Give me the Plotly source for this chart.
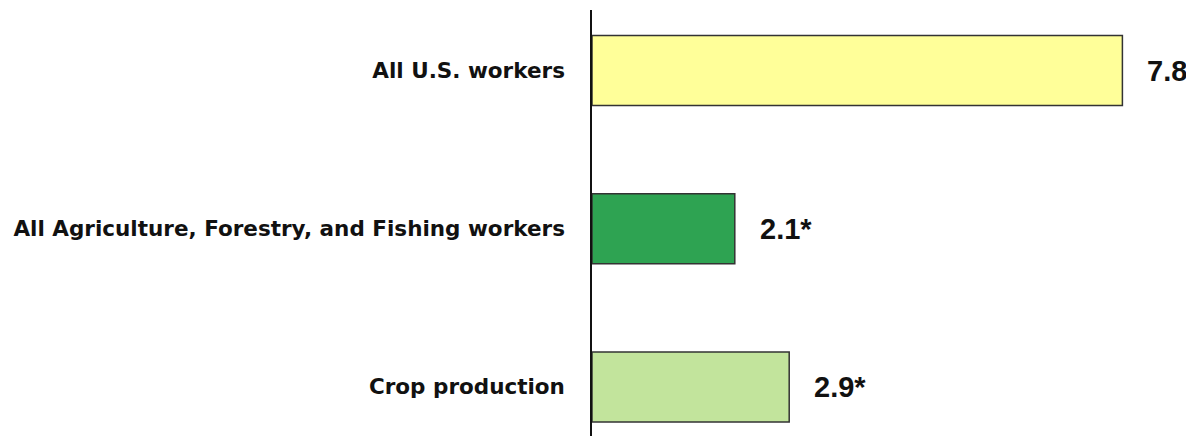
import plotly.graph_objects as go

categories = ["All U.S. workers", "All Agriculture, Forestry, and Fishing workers", "Crop production"]
values = [7.8, 2.1, 2.9]
value_labels = ["7.8", "2.1*", "2.9*"]
colors = ["#FFFF99", "#2EA352", "#C2E49C"]

positions = list(range(len(categories)))

fig = go.Figure()
fig.add_trace(go.Bar(
    x=values,
    y=positions,
    orientation="h",
    width=0.443,
    marker=dict(color=colors, line=dict(color="#333333", width=1.5)),
    hoverinfo="skip",
))

for p, v, t in zip(positions, values, value_labels):
    fig.add_annotation(
        x=v, y=p, text="<b>" + t + "</b>", showarrow=False,
        xanchor="left", yanchor="middle", xshift=23,
        font=dict(family="Liberation Sans", size=29, color="#111111"),
    )

fig.update_layout(
    width=1186, height=428,
    margin=dict(l=584, r=24, t=2, b=0),
    paper_bgcolor="white", plot_bgcolor="white",
    showlegend=False,
    xaxis=dict(range=[0, 8.5], visible=False, fixedrange=True),
    yaxis=dict(
        range=[2.31, -0.383],
        tickvals=positions,
        ticktext=["<b>" + c + "</b>" for c in categories],
        tickfont=dict(family="DejaVu Sans", size=21.5, color="#111111"),
        showline=True, linecolor="#111111", linewidth=1.5,
        showgrid=False, zeroline=False, ticks="",
        ticklabelstandoff=21,
    ),
)

fig.write_html("out.html")
